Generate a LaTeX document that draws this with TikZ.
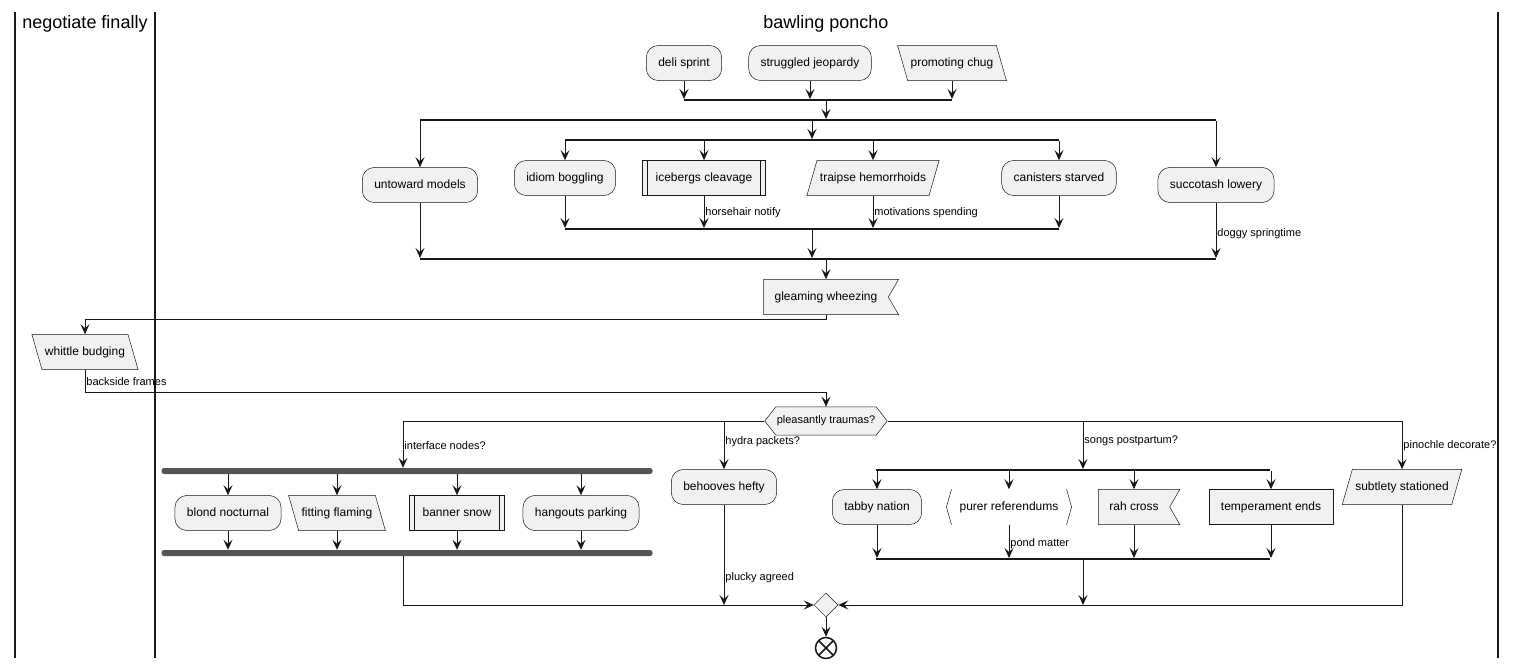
\documentclass[tikz,border=0pt]{standalone}
\usepackage{fontspec}
\setmainfont{Liberation Sans}
\usepackage{tikz}
\usetikzlibrary{positioning,arrows.meta,shapes.geometric,shapes.symbols,calc}
\definecolor{actfill}{HTML}{F1F1F1}
\definecolor{actline}{HTML}{181818}
\definecolor{forkfill}{HTML}{555555}
\tikzset{
  base/.style  = {draw=actline, fill=actfill, line width=0.5pt, align=center,
                  font=\fontsize{12}{14}\selectfont, inner xsep=12pt, inner ysep=12pt,
                  text height=8.6pt, text depth=2.5pt},
  act/.style   = {base, rounded corners=12pt},
  box/.style   = {base},
  sub/.style   = {base, inner xsep=13pt, path picture={
                    \draw[actline, line width=0.5pt]
                      ([xshift=5pt]path picture bounding box.north west) -- ([xshift=5pt]path picture bounding box.south west)
                      ([xshift=-5pt]path picture bounding box.north east) -- ([xshift=-5pt]path picture bounding box.south east);}},
  inL/.style   = {base, trapezium, trapezium left angle=106, trapezium right angle=74, inner xsep=3pt},
  inR/.style   = {base, trapezium, trapezium left angle=74, trapezium right angle=106, inner xsep=3pt},
  recv/.style  = {base, signal, signal to=nowhere, signal from=east, signal pointer angle=120, inner xsep=11pt},
  brk/.style   = {font=\fontsize{12}{14}\selectfont, inner xsep=8pt, inner ysep=12pt,
                  text height=8.6pt, text depth=2.5pt},
  brkline/.style = {draw=actline, line width=0.5pt},
  hex/.style   = {base, signal, signal to=west and east, signal pointer angle=104,
                  font=\fontsize{11}{13}\selectfont, inner xsep=1pt, inner ysep=9pt,
                  text height=7.9pt, text depth=2.3pt},
  mrg/.style   = {diamond, draw=actline, fill=actfill, line width=0.5pt,
                  minimum width=24pt, minimum height=24pt, inner sep=0pt},
  fin/.style   = {circle, draw=actline, fill=white, line width=1.5pt, minimum size=21pt, inner sep=0pt,
                  path picture={\draw[actline, line width=1.5pt]
                    (path picture bounding box.north west) -- (path picture bounding box.south east)
                    (path picture bounding box.north east) -- (path picture bounding box.south west);}},
  spl/.style   = {fill=actline, inner sep=0pt, minimum height=1.6pt},
  frk/.style   = {fill=forkfill, rounded corners=2.5pt, inner sep=0pt, minimum height=6pt},
  ar/.style    = {-{Stealth[length=10pt, width=9pt, inset=4pt]}, line width=0.9pt, draw=actline},
  lbl/.style   = {font=\fontsize{11}{13}\selectfont, inner sep=1pt},
  ttl/.style   = {font=\fontsize{18}{21}\selectfont, inner sep=0pt},
  lane/.style  = {line width=1.5pt, draw=actline},
}
\begin{document}
\begin{tikzpicture}[x=1pt, y=-1pt]
  \useasboundingbox (0,0) rectangle (1516,668);
  \draw[lane] (15,12) -- (15,658);
  \draw[lane] (155,12) -- (155,658);
  \draw[lane] (1498,12) -- (1498,658);
  \node[ttl] (t1) at (85,24) {negotiate finally};
  \node[ttl] (t2) at (826,24) {bawling poncho};

  \node[act] (ds) at (684,63) {deli sprint};
  \node[act] (sj) at (810,63) {struggled jeopardy};
  \node[inL] (pc) at (952,63) {promoting chug};
  \node[spl, minimum width=268pt] (m0) at (818,100) {};
  \node[spl, minimum width=796pt] (s1) at (818,120) {};
  \node[spl, minimum width=494pt] (s2) at (812,140) {};
  \node[act] (um) at (420,185) {untoward models};
  \node[act] (ib) at (565,178) {idiom boggling};
  \node[sub] (ic) at (704,178) {icebergs cleavage};
  \node[inR] (th) at (873,178) {traipse hemorrhoids};
  \node[act] (cs) at (1059,178) {canisters starved};
  \node[act] (sl) at (1216,185) {succotash lowery};
  \node[spl, minimum width=494pt] (m2) at (812,229) {};
  \node[spl, minimum width=796pt] (m1) at (818,259) {};
  \node[recv] (gw) at (826,297) {gleaming wheezing};
  \node[inL] (wb) at (85,352) {whittle budging};
  \node[hex] (pt) at (826,421) {pleasantly traumas?};

  \node[frk, minimum width=491pt] (fk1) at (407,471) {};
  \node[act] (bn) at (228,513) {blond nocturnal};
  \node[inL] (ff) at (337,513) {fitting flaming};
  \node[sub] (bs) at (457,513) {banner snow};
  \node[act] (hp) at (581,513) {hangouts parking};
  \node[frk, minimum width=491pt] (fk2) at (407,553) {};
  \node[act] (bh) at (724,487) {behooves hefty};
  \node[spl, minimum width=394pt] (s3) at (1073,470) {};
  \node[act] (tn) at (877,507) {tabby nation};
  \node[brk] (pr) at (1009,507) {purer referendums};
  \draw[brkline] (pr.north west) -- ([xshift=-5pt]pr.west) -- (pr.south west)
                 (pr.north east) -- ([xshift=5pt]pr.east) -- (pr.south east);
  \node[recv] (rc) at (1134,507) {rah cross};
  \node[box] (te) at (1271,507) {temperament ends};
  \node[spl, minimum width=394pt] (m3) at (1073,559) {};
  \node[inR] (ss) at (1402,487) {subtlety stationed};
  \node[mrg] (mg) at (826,605) {};
  \node[fin] (en) at (826,648) {};

  \draw[ar] (ds.south) -- (ds.south |- m0.north);
  \draw[ar] (sj.south) -- (sj.south |- m0.north);
  \draw[ar] (pc.south) -- (pc.south |- m0.north);
  \draw[ar] (m0.south -| pt.north) -- (s1.north -| pt.north);
  \draw[ar] (s1.south -| um.north) -- (um.north);
  \draw[ar] (s1.south -| s2.north) -- (s2.north);
  \draw[ar] (s1.south -| sl.north) -- (sl.north);
  \draw[ar] (s2.south -| ib.north) -- (ib.north);
  \draw[ar] (s2.south -| ic.north) -- (ic.north);
  \draw[ar] (s2.south -| th.north) -- (th.north);
  \draw[ar] (s2.south -| cs.north) -- (cs.north);
  \draw[ar] (ib.south) -- (ib.south |- m2.north);
  \draw[ar] (ic.south) -- node[lbl, right, pos=0.53] {horsehair notify} (ic.south |- m2.north);
  \draw[ar] (th.south) -- node[lbl, right, pos=0.53] {motivations spending} (th.south |- m2.north);
  \draw[ar] (cs.south) -- (cs.south |- m2.north);
  \draw[ar] (m2.south) -- (m2.south |- m1.north);
  \draw[ar] (um.south) -- (um.south |- m1.north);
  \draw[ar] (sl.south) -- node[lbl, right, pos=0.56] {doggy springtime} (sl.south |- m1.north);
  \draw[ar] (m1.south -| gw.north) -- (gw.north);
  \draw[ar] (gw.south) -- ++(0,5) -| (wb.north);
  \draw[ar] (wb.south) -- node[lbl, right] {backside frames} ++(0,23) -| (pt.north);

  \draw[ar] (pt.west) -| node[lbl, right, pos=0.76] {interface nodes?} ([xshift=-4pt]fk1.north);
  \draw[ar] (pt.west -| bh.north) -- node[lbl, right, pos=0.42] {hydra packets?} (bh.north);
  \draw[ar] (pt.east -| s3.north) ++(10,0) -- node[lbl, right, pos=0.42] {songs postpartum?} ([xshift=10pt]s3.north);
  \draw[ar] (pt.east) -| node[lbl, right, pos=0.76] {pinochle decorate?} (ss.north);
  \draw[ar] (fk1.south -| bn.north) -- (bn.north);
  \draw[ar] (fk1.south -| ff.north) -- (ff.north);
  \draw[ar] (fk1.south -| bs.north) -- (bs.north);
  \draw[ar] (fk1.south -| hp.north) -- (hp.north);
  \draw[ar] (bn.south) -- (bn.south |- fk2.north);
  \draw[ar] (ff.south) -- (ff.south |- fk2.north);
  \draw[ar] (bs.south) -- (bs.south |- fk2.north);
  \draw[ar] (hp.south) -- (hp.south |- fk2.north);
  \draw[ar] ([xshift=-4pt]fk2.south) |- (mg.west);
  \draw[ar] (bh.south) -- node[lbl, right, pos=0.73] {plucky agreed} (bh.south |- mg.west);
  \draw[ar] (s3.south -| tn.north) -- (tn.north);
  \draw[ar] (s3.south -| pr.north) -- (pr.north);
  \draw[ar] (s3.south -| rc.north) -- (rc.north);
  \draw[ar] (s3.south -| te.north) -- (te.north);
  \draw[ar] (tn.south) -- (tn.south |- m3.north);
  \draw[ar] (pr.south) -- node[lbl, right, pos=0.58] {pond matter} (pr.south |- m3.north);
  \draw[ar] (rc.south) -- (rc.south |- m3.north);
  \draw[ar] (te.south) -- (te.south |- m3.north);
  \draw[ar] ([xshift=10pt]m3.south) -- ([xshift=10pt]m3.south |- mg.east);
  \draw[ar] (ss.south) |- (mg.east);
  \draw[ar] (mg.south) -- (en.north);
\end{tikzpicture}
\end{document}
